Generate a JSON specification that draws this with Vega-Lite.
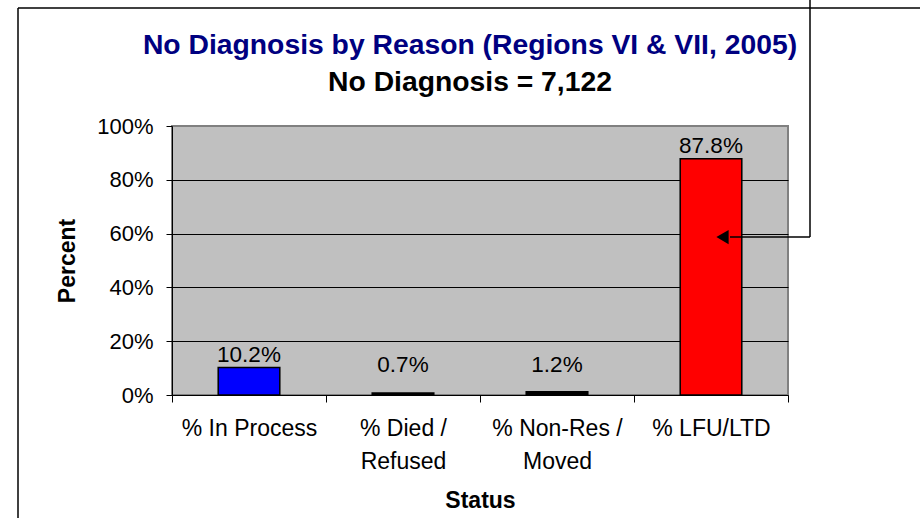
{
  "$schema": "https://vega.github.io/schema/vega-lite/v6.json",
  "width": 616,
  "height": 269,
  "autosize": {"type": "none"},
  "padding": {"left": 172, "top": 126, "right": 132, "bottom": 123},
  "background": "white",
  "title": {
    "text": "No Diagnosis by Reason (Regions VI & VII, 2005)",
    "subtitle": "No Diagnosis = 7,122",
    "anchor": "middle",
    "dx": -10,
    "font": "Liberation Sans",
    "fontSize": 28.3,
    "fontWeight": "bold",
    "color": "#000080",
    "subtitleFont": "Liberation Sans",
    "subtitleFontSize": 28.3,
    "subtitleFontWeight": "bold",
    "subtitleColor": "#000000",
    "subtitlePadding": 9,
    "offset": -101
  },
  "config": {
    "font": "Liberation Sans",
    "view": {"fill": "#C0C0C0", "stroke": "#808080", "strokeWidth": 2}
  },
  "data": {
    "values": [
      {"status": "% In Process", "pct": 10.2, "label": "10.2%"},
      {"status": "% Died / Refused", "pct": 0.7, "label": "0.7%"},
      {"status": "% Non-Res / Moved", "pct": 1.2, "label": "1.2%"},
      {"status": "% LFU/LTD", "pct": 87.8, "label": "87.8%"}
    ]
  },
  "layer": [
    {
      "mark": {"type": "bar", "width": {"band": 0.4}, "stroke": "#000000", "strokeWidth": 1.5},
      "encoding": {
        "x": {
          "field": "status",
          "type": "nominal",
          "sort": null,
          "scale": {"paddingInner": 0, "paddingOuter": 0},
          "axis": {
            "title": "Status",
            "titleFont": "Liberation Sans",
            "titleFontSize": 23,
            "titleFontWeight": "bold",
            "titleColor": "#000000",
            "titlePadding": 16,
            "labelFont": "Liberation Sans",
            "labelFontSize": 23,
            "labelColor": "#000000",
            "labelAngle": 0,
            "labelPadding": 15,
            "labelLineHeight": 33,
            "labelLimit": 0,
            "labelBaseline": "top",
            "labelExpr": "datum.value == '% Died / Refused' ? ['% Died /', 'Refused'] : datum.value == '% Non-Res / Moved' ? ['% Non-Res /', 'Moved'] : datum.label",
            "tickBand": "extent",
            "tickSize": 7,
            "tickColor": "#000000",
            "domainColor": "#000000",
            "domainWidth": 1,
            "grid": false
          }
        },
        "y": {
          "field": "pct",
          "type": "quantitative",
          "scale": {"domain": [0, 100]},
          "axis": {
            "title": "Percent",
            "titleFont": "Liberation Sans",
            "titleFontSize": 23,
            "titleFontWeight": "bold",
            "titleColor": "#000000",
            "titlePadding": 17,
            "labelFont": "Liberation Sans",
            "labelFontSize": 22,
            "labelColor": "#000000",
            "labelPadding": 13,
            "tickSize": 6,
            "tickColor": "#000000",
            "domainColor": "#000000",
            "values": [0, 20, 40, 60, 80, 100],
            "labelExpr": "datum.value + '%'",
            "grid": true,
            "gridColor": "#000000",
            "gridWidth": 1,
            "gridOpacity": {"condition": {"test": "datum.value == 100 || datum.value == 0", "value": 0}, "value": 1}
          }
        },
        "color": {
          "field": "status",
          "type": "nominal",
          "sort": null,
          "scale": {
            "domain": ["% In Process", "% Died / Refused", "% Non-Res / Moved", "% LFU/LTD"],
            "range": ["#0000FF", "#000000", "#000000", "#FF0000"]
          },
          "legend": null
        }
      }
    },
    {
      "transform": [{"calculate": "max(datum.pct, 6.5)", "as": "ly"}],
      "mark": {"type": "text", "dy": -6, "baseline": "alphabetic", "fontSize": 22.5, "font": "Liberation Sans", "color": "#000000"},
      "encoding": {
        "x": {"field": "status", "type": "nominal", "sort": null, "title": "Status"},
        "y": {"field": "ly", "type": "quantitative", "title": "Percent"},
        "text": {"field": "label"}
      }
    },
    {
      "data": {"values": [{"a": 1}]},
      "mark": {"type": "rule", "stroke": "#000000", "strokeWidth": 1.5, "xOffset": 19, "x2Offset": 99},
      "encoding": {
        "x": {"datum": "% LFU/LTD"},
        "x2": {"datum": "% LFU/LTD"},
        "y": {"datum": 58.7}
      }
    },
    {
      "data": {"values": [{"a": 1}]},
      "mark": {"type": "rule", "stroke": "#000000", "strokeWidth": 1.5, "xOffset": 99},
      "encoding": {
        "x": {"datum": "% LFU/LTD"},
        "y": {"datum": 58.7},
        "y2": {"datum": 148}
      }
    },
    {
      "data": {"values": [{"a": 1}]},
      "mark": {"type": "point", "shape": "triangle-left", "filled": true, "color": "#000000", "opacity": 1, "size": 200, "xOffset": 11.5},
      "encoding": {
        "x": {"datum": "% LFU/LTD"},
        "y": {"datum": 58.7}
      }
    },
    {
      "data": {"values": [{"a": 1}]},
      "mark": {"type": "rule", "stroke": "#000000", "strokeWidth": 1.5, "xOffset": -231},
      "encoding": {
        "x": {"datum": "% In Process"},
        "y": {"datum": 143.9},
        "y2": {"datum": -70}
      }
    },
    {
      "data": {"values": [{"a": 1}]},
      "mark": {"type": "rule", "stroke": "#000000", "strokeWidth": 1.5, "xOffset": -231, "x2Offset": 300},
      "encoding": {
        "x": {"datum": "% In Process"},
        "x2": {"datum": "% LFU/LTD"},
        "y": {"datum": 143.9}
      }
    }
  ]
}
